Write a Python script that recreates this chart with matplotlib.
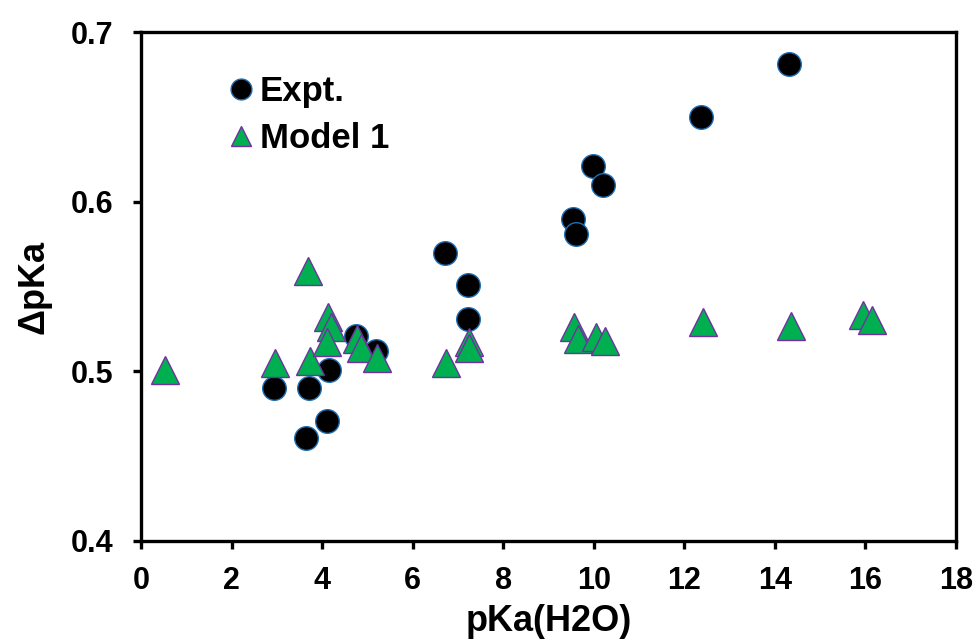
import matplotlib
matplotlib.use("Agg")
import matplotlib.pyplot as plt
from matplotlib.lines import Line2D

plt.rcParams['font.family'] = ['Liberation Sans', 'DejaVu Sans']

# Experimental data
expt_x = [2.94, 3.64, 3.72, 4.10, 4.16, 4.75, 5.20, 6.72, 7.22, 7.22,
          9.54, 9.61, 9.99, 10.21, 12.37, 14.31]
expt_y = [0.490, 0.461, 0.490, 0.471, 0.501, 0.521, 0.512, 0.570, 0.551, 0.531,
          0.590, 0.581, 0.621, 0.610, 0.650, 0.681]

# Model 1 data
model_x = [0.54, 2.96, 3.68, 3.74, 4.13, 4.20, 4.10, 4.77, 4.86, 5.22,
           6.74, 7.25, 7.25, 9.57, 9.66, 10.04, 10.25, 12.41, 14.35, 15.94, 16.15]
model_y = [0.501, 0.505, 0.559, 0.506, 0.532, 0.526, 0.517, 0.519, 0.514, 0.508,
           0.505, 0.517, 0.514, 0.526, 0.519, 0.520, 0.518, 0.529, 0.527, 0.533, 0.530]

xticks = [0, 2, 4, 6, 8, 10, 12, 14, 16, 18]
yticks = [0.4, 0.5, 0.6, 0.7]

fig = plt.figure(figsize=(9.77, 6.43), dpi=100)
ax = fig.add_axes([141/977, 1 - 541/643, (956 - 141)/977, (541 - 32)/643])

ax.plot(expt_x, expt_y, linestyle='none', marker='o', markersize=17,
        markerfacecolor='black', markeredgecolor='#1f6fb5', markeredgewidth=1.0,
        zorder=3)
ax.plot(model_x, model_y, linestyle='none', marker='^', markersize=20,
        markerfacecolor='#00B050', markeredgecolor='#7030A0', markeredgewidth=1.0,
        zorder=4)

ax.set_xlim(0, 18)
ax.set_ylim(0.4, 0.7)
ax.set_xticks(xticks)
ax.set_xticklabels([str(t) for t in xticks])
ax.set_yticks(yticks)
ax.set_yticklabels([f"{t:.1f}" for t in yticks])

for s in ax.spines.values():
    s.set_linewidth(2.4)
    s.set_color('black')

ax.tick_params(axis='x', which='major', direction='out', length=6, width=2.4,
               labelsize=22, pad=12)
ax.tick_params(axis='y', which='major', direction='out', length=6, width=2.4,
               labelsize=22, pad=14)
for lab in ax.get_xticklabels() + ax.get_yticklabels():
    lab.set_fontweight('bold')

ax.set_xlabel('pKa(H2O)', fontsize=26, fontweight='bold', labelpad=6)
ax.set_ylabel('ΔpKa', fontsize=26, fontweight='bold', labelpad=14)

handles = [
    Line2D([], [], linestyle='none', marker='o', markersize=15,
           markerfacecolor='black', markeredgecolor='#1f6fb5', markeredgewidth=1.0),
    Line2D([], [], linestyle='none', marker='^', markersize=15,
           markerfacecolor='#00B050', markeredgecolor='#7030A0', markeredgewidth=1.0),
]
leg = ax.legend(handles, ['Expt.', 'Model 1'], loc='upper left',
                bbox_to_anchor=(0.112, 0.915), frameon=False,
                prop={'size': 25, 'weight': 'bold'},
                handlelength=0.5, handletextpad=0.3, labelspacing=0.4,
                borderpad=0, borderaxespad=0)

fig.savefig('out.png', dpi=100)
